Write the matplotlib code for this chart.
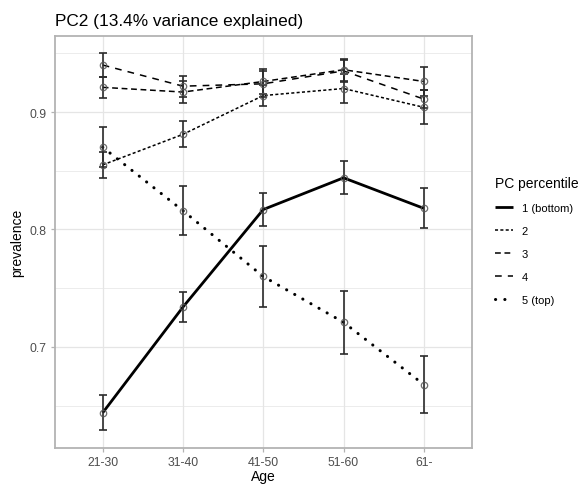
import matplotlib
matplotlib.use("Agg")
import matplotlib.pyplot as plt
from matplotlib.ticker import FixedLocator

plt.rcParams["font.family"] = ["Liberation Sans", "DejaVu Sans"]

BORDER = "#B3B3B3"
GRID = "#E5E5E5"
TICK_TEXT = "#4D4D4D"
ERR_COLOR = "#2B2B2B"
PT_COLOR = "#555555"

ages = ["21-30", "31-40", "41-50", "51-60", "61-"]
groups = ["1 (bottom)", "2", "3", "4", "5 (top)"]

prev = {
    "1 (bottom)": [0.644, 0.734, 0.817, 0.844, 0.818],
    "2": [0.855, 0.881, 0.914, 0.920, 0.904],
    "3": [0.921, 0.917, 0.926, 0.936, 0.926],
    "4": [0.940, 0.922, 0.924, 0.935, 0.911],
    "5 (top)": [0.870, 0.816, 0.760, 0.721, 0.668],
}
err = {
    "1 (bottom)": [0.015, 0.013, 0.014, 0.014, 0.017],
    "2": [0.011, 0.011, 0.009, 0.012, 0.0145],
    "3": [0.009, 0.009, 0.011, 0.0095, 0.012],
    "4": [0.010, 0.009, 0.011, 0.0095, 0.008],
    "5 (top)": [0.017, 0.021, 0.026, 0.027, 0.024],
}

styles = {
    "1 (bottom)": dict(lw=2.0, ls="-"),
    "2": dict(lw=1.1, ls=(0, (2.0, 1.5))),
    "3": dict(lw=1.1, ls=(0, (3.8, 2.4))),
    "4": dict(lw=1.1, ls=(0, (4.4, 4.0))),
    "5 (top)": dict(lw=2.2, ls=(0, (0.05, 3.0))),
}

fig = plt.figure(figsize=(5.85, 4.85), dpi=100)
ax = fig.add_axes([0.0932, 0.0742, 0.7136, 0.8495])

x = list(range(len(ages)))
handles = []
for g in groups:
    st = styles[g]
    (ln,) = ax.plot(x, prev[g], color="black", lw=st["lw"], linestyle=st["ls"],
                    dash_capstyle="round" if g == "5 (top)" else "butt",
                    solid_capstyle="butt", zorder=3, label=g)
    handles.append(ln)
    ax.errorbar(x, prev[g], yerr=err[g], fmt="none", ecolor=ERR_COLOR,
                elinewidth=1.2, capsize=2.8, capthick=1.2, zorder=4)
    ax.plot(x, prev[g], linestyle="none", marker="o", markersize=4.6,
            markerfacecolor="none", markeredgecolor=PT_COLOR, markeredgewidth=0.9,
            alpha=0.85, zorder=5)

ax.set_xlim(-0.6, 4.6)
ax.set_ylim(0.614, 0.9647)
ax.set_xticks(x)
ax.set_xticklabels(ages)
ax.yaxis.set_major_locator(FixedLocator([0.7, 0.8, 0.9]))
ax.yaxis.set_minor_locator(FixedLocator([0.65, 0.75, 0.85, 0.95]))

ax.grid(True, which="major", color=GRID, lw=0.9, zorder=0)
ax.grid(True, which="minor", axis="y", color=GRID, lw=0.5, zorder=0)
ax.set_axisbelow(True)
for s in ax.spines.values():
    s.set_color(BORDER)
    s.set_linewidth(1.3)
ax.tick_params(which="major", color=BORDER, length=3, width=0.9,
               labelsize=8.8, labelcolor=TICK_TEXT, pad=2.5)
ax.tick_params(which="minor", length=0)

ax.set_xlabel("Age", fontsize=10, labelpad=1)
ax.set_ylabel("prevalence", fontsize=10, labelpad=4)
ax.set_title("PC2 (13.4% variance explained)", fontsize=12.4, loc="left", pad=8)

leg = fig.legend(handles=handles, labels=groups, title="PC percentile",
                 loc="upper left", bbox_to_anchor=(0.829, 0.655), frameon=False,
                 fontsize=8, title_fontsize=10, handlelength=1.6,
                 handletextpad=0.8, labelspacing=1.17, alignment="left")

fig.savefig("out.png", dpi=100)
